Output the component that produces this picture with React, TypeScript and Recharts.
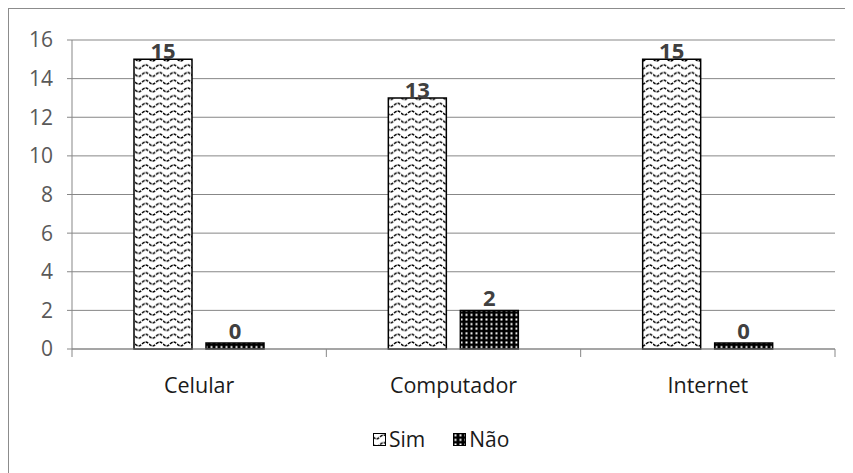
import React from "react";
import { BarChart, Bar, XAxis, YAxis, CartesianGrid, LabelList, Legend } from "recharts";

const categories = ["Celular", "Computador", "Internet"];
const simValues = [15, 13, 15];
const naoValues = [0, 2, 0];
const yTicks = [0, 2, 4, 6, 8, 10, 12, 14, 16];
const seriesNames = ["Sim", "Não"];

const data = categories.map((c, i) => ({ name: c, sim: simValues[i], nao: naoValues[i] }));

const FONT = "'Open Sans', sans-serif";
const GRID = "#878787";

const CategoryTick = (props: any) => {
  const { x, y, payload, index, width, visibleTicksCount } = props;
  const band = width / visibleTicksCount;
  return (
    <g>
      <line x1={x - band / 2} x2={x - band / 2} y1={y - 8} y2={y} stroke={GRID} strokeWidth={1} />
      {index === visibleTicksCount - 1 && (
        <line x1={x + band / 2} x2={x + band / 2} y1={y - 8} y2={y} stroke={GRID} strokeWidth={1} />
      )}
      <text x={x} y={y + 36} textAnchor="middle" fontFamily={FONT} fontSize={21.5} fill="#1a1a1a">
        {payload.value}
      </text>
    </g>
  );
};

const LegendContent = () => (
  <div style={{ height: 54, display: "flex", justifyContent: "flex-start", alignItems: "flex-start", fontFamily: FONT, fontSize: 21, color: "#1a1a1a" }}>
    <div style={{ display: "flex", alignItems: "center", marginTop: 6, marginLeft: 364 }}>
      <svg width={13} height={13} style={{ marginRight: 3 }}>
        <rect x={0.5} y={0.5} width={12} height={12} fill="url(#wavePat)" stroke="#000" strokeWidth={1} />
      </svg>
      <span>{seriesNames[0]}</span>
      <svg width={13} height={13} style={{ marginLeft: 28, marginRight: 3 }}>
        <rect x={0.5} y={0.5} width={12} height={12} fill="url(#dotPat)" stroke="#000" strokeWidth={1} />
      </svg>
      <span>{seriesNames[1]}</span>
    </div>
  </div>
);

export default function App() {
  return (
    <div style={{ width: 844, height: 464, borderLeft: "1px solid #8c8c8c", borderTop: "1px solid #8c8c8c", background: "#fff" }}>
      <BarChart
        width={844}
        height={464}
        data={data}
        margin={{ top: 31, right: 18, bottom: 0, left: 0 }}
        barSize={58}
        barGap={14}
      >
        <defs>
          <pattern id="wavePat" patternUnits="userSpaceOnUse" width={14} height={7.7}>
            <rect width={14} height={7.7} fill="#fff" />
            <path d="M0 3.85 Q3.5 7.6 7 3.85 T14 3.85" fill="none" stroke="#000" strokeWidth={1.5} strokeDasharray="3 1" />
          </pattern>
          <pattern id="dotPat" patternUnits="userSpaceOnUse" width={5} height={4.6}>
            <rect width={5} height={4.6} fill="#000" />
            <rect x={1.5} y={1.3} width={2} height={2} fill="#fff" />
          </pattern>
        </defs>
        <CartesianGrid vertical={false} stroke={GRID} strokeWidth={1} />
        <XAxis
          dataKey="name"
          height={70}
          axisLine={{ stroke: GRID }}
          tickLine={false}
          tickSize={8}
          tickMargin={0}
          tick={<CategoryTick />}
          interval={0}
        />
        <YAxis
          width={63}
          domain={[0, 16]}
          ticks={yTicks}
          axisLine={{ stroke: GRID }}
          tickLine={{ stroke: GRID }}
          tickSize={5}
          tickMargin={14}
          tick={{ fontFamily: FONT, fontSize: 21, fill: "#595959" }}
          interval={0}
        />
        <Legend verticalAlign="bottom" height={54} content={<LegendContent />} />
        <Bar dataKey="sim" name={seriesNames[0]} fill="url(#wavePat)" stroke="#000" strokeWidth={1.5} isAnimationActive={false}>
          <LabelList dataKey="sim" position="top" offset={0} style={{ fontFamily: FONT, fontSize: 22, fontWeight: 700, fill: "#404040" }} />
        </Bar>
        <Bar dataKey="nao" name={seriesNames[1]} fill="url(#dotPat)" stroke="#000" strokeWidth={1.5} minPointSize={6} isAnimationActive={false}>
          <LabelList dataKey="nao" position="top" offset={4} style={{ fontFamily: FONT, fontSize: 22, fontWeight: 700, fill: "#404040" }} />
        </Bar>
      </BarChart>
    </div>
  );
}
